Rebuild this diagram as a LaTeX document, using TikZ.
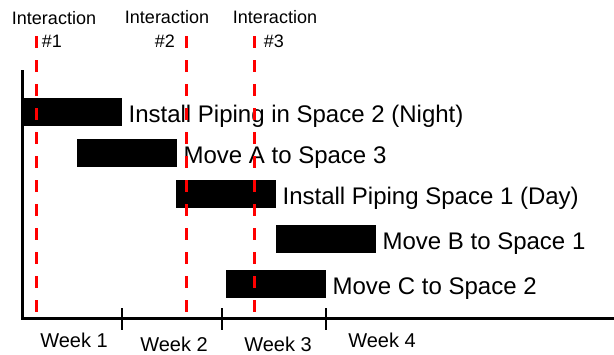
\documentclass[tikz,border=0pt]{standalone}
\usepackage{fontspec}
\setmainfont{Liberation Sans}
\usetikzlibrary{positioning}
\tikzset{
	bar/.style={fill=black,inner sep=0pt,minimum width=100pt,minimum height=28pt,anchor=west},
	task/.style={anchor=base west,inner sep=0pt,font=\fontsize{24}{26}\selectfont},
	week/.style={inner sep=0pt,font=\fontsize{20}{22}\selectfont},
	interact/.style={inner sep=0pt,align=center,font=\fontsize{18}{22}\selectfont},
	marker/.style={red,line width=3pt,dash pattern=on 12pt off 12pt}
}
\begin{document}
\begin{tikzpicture}[x=1pt,y=-1pt]
\useasboundingbox (0,0) rectangle (614,354);

% axes
\coordinate (top) at (22,70);
\coordinate (origin) at (22,318);
\coordinate (right) at (614,318);
\draw[line width=3pt] (top) -- (origin) -- (right);

% week ticks
\foreach \x/\n in {122/1,222/2,326/3}
{
	\coordinate (t\n a) at (\x,308);
	\coordinate (t\n b) at (\x,330);
	\draw[line width=2.5pt] (t\n a) -- (t\n b);
}
\node[week] (w1) at (74,340) {Week 1};
\node[week] (w2) at (174,344) {Week 2};
\node[week] (w3) at (278,344) {Week 3};
\node[week] (w4) at (382,340) {Week 4};

% tasks
\node[bar] (b1) at (22,112) {};
\node[task] (l1) at ([xshift=6pt,yshift=-10.5pt]b1.east) {Install Piping in Space 2 (Night)};
\node[bar] (b2) at (77,153) {};
\node[task] (l2) at ([xshift=6pt,yshift=-10.5pt]b2.east) {Move A to Space 3};
\node[bar] (b3) at (176,194) {};
\node[task] (l3) at ([xshift=6pt,yshift=-10.5pt]b3.east) {Install Piping Space 1 (Day)};
\node[bar] (b4) at (276,239) {};
\node[task] (l4) at ([xshift=6pt,yshift=-10.5pt]b4.east) {Move B to Space 1};
\node[bar] (b5) at (226,284) {};
\node[task] (l5) at ([xshift=6pt,yshift=-10.5pt]b5.east) {Move C to Space 2};

% interactions
\foreach \x/\n in {36/1,186/2,254/3}
{
	\coordinate (i\n a) at (\x,36);
	\coordinate (i\n b) at (\x,318);
	\draw[marker] (i\n a) -- (i\n b);
}
\node[interact] (n1) at (54,18) {Interaction};
\node[interact] (h1) at (52,41) {\#1};
\node[interact] (n2) at (167,17) {Interaction};
\node[interact] (h2) at (165,41) {\#2};
\node[interact] (n3) at (275,17) {Interaction};
\node[interact] (h3) at (274,41) {\#3};
\end{tikzpicture}
\end{document}
